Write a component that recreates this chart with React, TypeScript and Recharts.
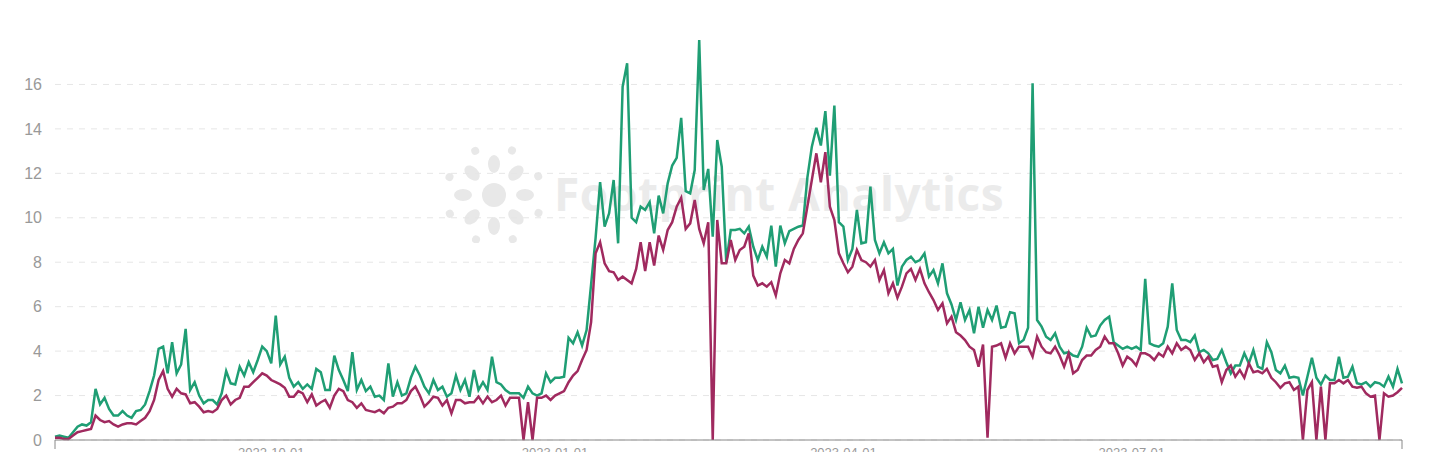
import React from "react";
import { LineChart, Line, XAxis, YAxis, CartesianGrid } from "recharts";

// two daily series, 300 samples across the axis
const totalValues: number[] = [
  0.15, 0.2, 0.15, 0.1, 0.35, 0.6, 0.7, 0.65, 0.8, 2.3,
  1.6, 1.9, 1.4, 1.1, 1.1, 1.3, 1.1, 1.0, 1.3, 1.35,
  1.6, 2.2, 2.9, 4.1, 4.2, 3.0, 4.4, 3.0, 3.4, 5.0,
  2.25, 2.6, 2.0, 1.65, 1.8, 1.8, 1.6, 2.1, 3.1, 2.55,
  2.5, 3.3, 2.9, 3.5, 3.05, 3.6, 4.2, 4.0, 3.45, 5.6,
  3.4, 3.75, 2.8, 2.4, 2.6, 2.3, 2.5, 2.3, 3.2, 3.05,
  2.25, 2.25, 3.8, 3.15, 2.7, 2.2, 3.95, 2.25, 2.7, 2.2,
  2.4, 1.95, 2.0, 1.8, 3.45, 1.95, 2.6, 2.0, 2.1, 2.8,
  3.3, 2.9, 2.4, 2.1, 2.7, 2.25, 2.4, 1.95, 2.1, 2.9,
  2.25, 2.7, 1.95, 3.15, 2.25, 2.6, 2.25, 3.75, 2.6, 2.5,
  2.25, 2.1, 2.1, 2.1, 1.9, 2.4, 2.1, 2.0, 2.1, 3.0,
  2.6, 2.8, 2.8, 2.85, 4.6, 4.35, 4.85, 4.25, 4.95, 7.0,
  9.1, 11.6, 9.6, 10.2, 11.7, 8.85, 15.9, 16.95, 10.0, 9.8,
  10.5, 10.35, 10.7, 9.3, 11.0, 10.2, 11.55, 12.35, 12.7, 14.5,
  11.2, 11.1, 12.15, 18.0, 11.25, 12.2, 9.15, 13.5, 12.3, 8.0,
  9.45, 9.45, 9.5, 9.3, 9.6, 8.7, 8.1, 8.7, 8.25, 9.65,
  7.8, 9.65, 8.85, 9.4, 9.5, 9.6, 9.65, 11.8, 13.2, 14.05,
  13.25, 14.8, 11.9, 15.05, 9.8, 9.6, 8.1, 8.6, 10.35, 8.85,
  8.9, 11.4, 9.0, 8.4, 8.9, 8.4, 8.6, 6.95, 7.8, 8.1,
  8.25, 8.0, 8.1, 8.4, 7.35, 7.65, 7.05, 7.95, 6.6, 6.1,
  5.4, 6.2, 5.4, 5.85, 4.8, 6.0, 5.05, 5.85, 5.4, 6.05,
  5.05, 5.1, 5.75, 5.7, 4.35, 4.5, 5.05, 16.05, 5.4, 5.1,
  4.65, 4.5, 4.8, 4.2, 3.9, 3.95, 3.8, 3.75, 4.2, 5.05,
  4.65, 4.7, 5.15, 5.4, 5.55, 4.4, 4.25, 4.1, 4.2, 4.1,
  4.2, 4.05, 7.25, 4.35, 4.25, 4.2, 4.35, 5.1, 7.05, 4.95,
  4.5, 4.5, 4.4, 4.7, 3.95, 4.05, 3.9, 3.6, 3.65, 4.05,
  3.5, 3.0, 3.35, 3.35, 3.9, 3.45, 4.05, 3.3, 3.2, 4.4,
  3.95, 3.15, 3.0, 3.35, 2.8, 2.85, 2.8, 2.0, 2.85, 3.7,
  2.8, 2.5, 2.9, 2.7, 2.7, 3.75, 2.8, 2.85, 3.3, 2.55,
  2.5, 2.6, 2.4, 2.6, 2.55, 2.4, 2.85, 2.4, 3.2, 2.55,
];

const netValues: number[] = [
  0.1, 0.1, 0.05, 0.05, 0.2, 0.35, 0.4, 0.45, 0.5, 1.1,
  0.9, 0.8, 0.85, 0.7, 0.6, 0.7, 0.75, 0.75, 0.7, 0.85,
  1.0, 1.3, 1.8, 2.7, 3.1, 2.3, 1.95, 2.3, 2.1, 2.05,
  1.65, 1.7, 1.5, 1.25, 1.3, 1.25, 1.4, 1.8, 2.0, 1.6,
  1.8, 1.9, 2.4, 2.4, 2.6, 2.8, 3.0, 2.9, 2.7, 2.6,
  2.5, 2.35, 1.95, 1.95, 2.2, 2.1, 1.7, 2.05, 1.55, 1.7,
  1.8, 1.45, 2.0, 2.3, 2.2, 1.8, 1.7, 1.45, 1.65, 1.35,
  1.3, 1.25, 1.35, 1.2, 1.45, 1.5, 1.65, 1.65, 1.8, 2.2,
  2.4, 2.0, 1.5, 1.7, 1.95, 1.9, 1.55, 1.8, 1.2, 1.8,
  1.8, 1.65, 1.7, 1.7, 1.95, 1.65, 1.95, 1.7, 1.8, 2.0,
  1.55, 1.9, 1.9, 1.9, 0, 1.7, 0, 1.9, 1.9, 2.0,
  1.8, 2.0, 2.1, 2.2, 2.6, 2.9, 3.1, 3.6, 4.05, 5.3,
  8.4, 8.9, 7.95, 7.6, 7.55, 7.2, 7.35, 7.2, 7.05, 7.7,
  8.9, 7.6, 8.9, 7.85, 9.2, 8.55, 9.45, 9.8, 10.5, 10.9,
  9.5, 9.75, 10.8, 9.5, 8.85, 9.8, 0, 9.9, 7.95, 7.95,
  9.0, 8.1, 8.55, 8.7, 9.3, 7.4, 6.95, 7.05, 6.9, 7.1,
  6.5, 7.5, 8.1, 7.95, 8.6, 9.0, 9.3, 10.5, 11.7, 12.9,
  11.6, 12.95, 10.5, 9.9, 8.4, 7.95, 7.55, 7.8, 8.55, 8.1,
  8.0, 7.8, 8.1, 7.2, 7.65, 6.6, 7.05, 6.4, 6.9, 7.5,
  7.7, 7.2, 7.7, 7.05, 6.65, 6.3, 5.85, 6.15, 5.25, 5.55,
  4.85, 4.7, 4.5, 4.2, 4.05, 3.3, 4.3, 0.1, 4.2, 4.25,
  4.35, 3.7, 4.35, 3.9, 4.2, 4.2, 4.2, 3.75, 4.65, 4.2,
  3.95, 3.9, 4.2, 3.8, 3.3, 3.9, 3.0, 3.15, 3.6, 3.8,
  3.8, 4.05, 4.2, 4.65, 4.35, 4.35, 3.9, 3.35, 3.75, 3.6,
  3.35, 3.9, 3.9, 3.8, 3.6, 3.9, 3.75, 4.2, 3.9, 4.35,
  4.05, 4.2, 4.05, 3.6, 3.9, 3.5, 3.75, 3.3, 3.35, 2.6,
  3.15, 3.35, 2.85, 3.15, 2.8, 3.45, 3.05, 3.1, 3.0, 3.2,
  2.8, 2.6, 2.35, 2.55, 2.6, 2.25, 2.4, 0, 2.25, 2.6,
  0, 2.4, 0, 2.55, 2.55, 2.7, 2.55, 2.7, 2.4, 2.35,
  2.4, 2.1, 1.95, 2.0, 0, 2.1, 1.95, 2.0, 2.15, 2.35,
];

const yTicks = [0, 2, 4, 6, 8, 10, 12, 14, 16];
const yMax = 18;
// x labels sit below the visible area, only their tops show
const xTickIndexes = [0, 48, 111, 175, 239, 299];
const xTickLabels = ["", "2022-10-01", "2023-01-01", "2023-04-01", "2023-07-01", ""];

const GREEN = "#1f9e74";
const RED = "#a02a5f";

const data = totalValues.map((v, i) => ({ idx: i, total: v, net: netValues[i] }));

const XTick = (props: any) => {
  const { x, y, payload } = props;
  const pos = xTickIndexes.indexOf(payload.value);
  if (pos === 0 || pos === xTickIndexes.length - 1) {
    return <line x1={x} x2={x} y1={y - 8} y2={y + 1} stroke="#888" strokeWidth={1} />;
  }
  return (
    <text x={x} y={y} dy="0.71em" textAnchor="middle" fill="#999" fontSize={13}>
      {xTickLabels[pos]}
    </text>
  );
};

// grid only on the labelled ticks (no line at the top of the domain)
const gridRows = ({ offset }: any) =>
  yTicks.map((t) => offset.top + offset.height * (1 - t / yMax));

const Watermark = () => (
  <div style={{ position: "absolute", left: 420, top: 135, display: "flex", alignItems: "center" }}>
    <svg width={120} height={100}>
      <g fill="#e8e8e8" transform="translate(66,52)">
        <circle r={12} />
        {[0, 45, 90, 135, 180, 225, 270, 315].map((a) => (
          <ellipse key={a} cx={31} cy={0} rx={9} ry={6} transform={`rotate(${a})`} />
        ))}
        {[22, 67, 112, 157, 202, 247, 292, 337].map((a) => (
          <circle key={a} cx={48} cy={0} r={4} transform={`rotate(${a})`} />
        ))}
      </g>
    </svg>
    <span
      style={{
        fontFamily: "'Open Sans', sans-serif",
        fontWeight: 700,
        fontSize: 46,
        color: "#ebebeb",
        marginLeft: 6,
        letterSpacing: 0.6,
      }}
    >
      Footprint Analytics
    </span>
  </div>
);

export default function App() {
  return (
    <div style={{ position: "relative", width: 1421, height: 480, fontFamily: "'Liberation Sans', Arial, sans-serif" }}>
      <div style={{ position: "absolute", left: 10, top: -20, fontSize: 13, lineHeight: "18px", color: "#888" }}>
        <span>● Volume Ratio</span>
        <span style={{ marginLeft: 10, color: "#9ccfbd" }}>● Net Ratio</span>
      </div>
      <Watermark />
      <div style={{ position: "relative" }}>
        <LineChart width={1421} height={480} data={data} margin={{ top: 32, right: 27, left: 0, bottom: 18 }}>
          <CartesianGrid
            vertical={false}
            stroke="#e6e6e6"
            strokeDasharray="6 6"
            horizontalCoordinatesGenerator={gridRows}
          />
          <XAxis
            dataKey="idx"
            type="number"
            domain={[0, 299]}
            ticks={xTickIndexes}
            interval={0}
            height={30}
            tickSize={0}
            tickMargin={8}
            tickLine={false}
            axisLine={{ stroke: "#888" }}
            tick={<XTick />}
          />
          <YAxis
            width={47}
            domain={[0, yMax]}
            ticks={yTicks}
            axisLine={false}
            tickLine={false}
            tickSize={0}
            tickMargin={13}
            tick={{ fill: "#999", fontSize: 16 }}
          />
          <Line type="linear" dataKey="total" stroke={GREEN} strokeWidth={2.5} dot={false} isAnimationActive={false} />
          <Line type="linear" dataKey="net" stroke={RED} strokeWidth={2.5} dot={false} isAnimationActive={false} />
        </LineChart>
      </div>
    </div>
  );
}
